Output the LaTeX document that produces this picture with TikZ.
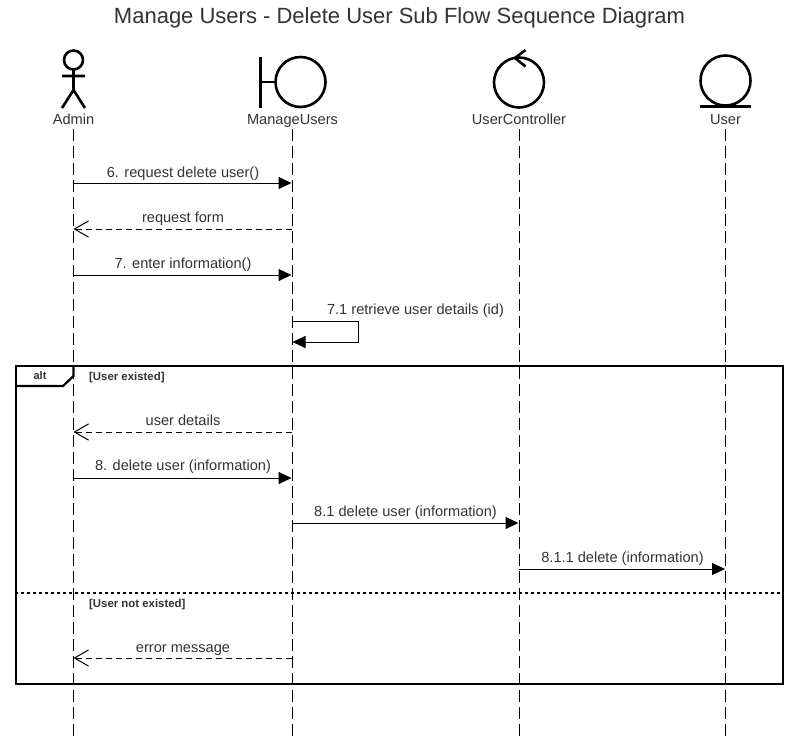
\documentclass[tikz,border=0pt]{standalone}
\usepackage{fontspec}
\setmainfont{Liberation Sans}
\usetikzlibrary{arrows.meta}
\definecolor{txt}{HTML}{333333}
\tikzset{
 x=1pt,y=-1pt,
 shape line/.style={draw=black,line width=2.6pt},
 frame line/.style={draw=black,line width=2.2pt},
 lifeline/.style={draw=black,line width=1pt,dash pattern=on 12pt off 5pt},
 sync/.style={draw=black,line width=1pt,-{Triangle[length=13pt,width=12pt]},shorten >=0.5pt},
 reply/.style={draw=black,line width=1pt,dash pattern=on 6pt off 4pt,-{Straight Barb[length=14pt,width=14pt,line width=1pt,angle'=60]}},
 lbl/.style={font=\fontsize{14.6}{16}\selectfont,text=txt,inner sep=0pt,anchor=base},
 guard/.style={font=\bfseries\fontsize{11.4}{13}\selectfont,text=txt,inner sep=0pt,anchor=base west},
}
\begin{document}
\begin{tikzpicture}
\useasboundingbox (0,0) rectangle (799,740);
\fill[white] (0,0) rectangle (799,740);
\node[font=\fontsize{22}{26}\selectfont,text=txt,inner sep=0pt] (title) at (399.5,18) {Manage Users - Delete User Sub Flow Sequence Diagram};
% actor labels
\node[lbl] (admin) at (73.5,124.5) {Admin};
\node[lbl] (manage) at (292.5,124.5) {ManageUsers};
\node[lbl] (ctrl) at (519,124.5) {UserController};
\node[lbl] (user) at (725.5,124.5) {User};
% lifeline ends
\coordinate (adminEnd) at (73.5,737);
\coordinate (manageEnd) at (292,737);
\coordinate (ctrlEnd) at (519,737);
\coordinate (userEnd) at (725.5,737);
\coordinate (adminTop) at (73.5,129);
\coordinate (manageTop) at (292,129);
\coordinate (ctrlTop) at (519,129);
\coordinate (userTop) at (725.5,129);
\draw[lifeline] (adminTop) -- (adminEnd);
\draw[lifeline] (manageTop) -- (manageEnd);
\draw[lifeline] (ctrlTop) -- (ctrlEnd);
\draw[lifeline] (userTop) -- (userEnd);
% actor figure
\draw[shape line] (73.5,60) circle (9.5);
\draw[shape line] (73.5,69.5) -- (73.5,90) (62,76) -- (85,76) (62,108) -- (73.5,90) -- (85,108);
% boundary
\draw[shape line] (300.5,82) circle (25);
\draw[shape line] (260.5,57) -- (260.5,108) (260.5,82) -- (275.5,82);
% control
\draw[shape line] (519,82.5) circle (25);
\draw[shape line] (525.5,50) -- (515,58) -- (525.5,66.5);
% entity
\draw[shape line] (725.5,80.5) circle (25);
\draw[shape line] (700,106.5) -- (751,106.5);
% frame
\node[frame line,minimum width=767pt,minimum height=318pt,inner sep=0pt] (frame) at (399.5,525) {};
\draw[frame line] (16,386) -- (63,386) -- (73.5,376) -- (73.5,366);
\node[font=\bfseries\fontsize{11}{13}\selectfont,text=txt,inner sep=0pt] (altlbl) at (40,376) {alt};
\node[guard] (g1) at (89,380) {[User existed]};
\node[guard] (g2) at (89,607) {[User not existed]};
\coordinate (divL) at (frame.west |- 0,593);
\coordinate (divR) at (frame.east |- 0,593);
\draw[draw=black,line width=2pt,dash pattern=on 3pt off 3pt] (divL) -- (divR);
% messages
\coordinate (a1) at (73.5,183); \coordinate (m1) at (292,183);
\coordinate (a2) at (73.5,229); \coordinate (m2) at (292,229);
\coordinate (a3) at (73.5,275); \coordinate (m3) at (292,275);
\coordinate (m4) at (292,321); \coordinate (m4b) at (292,342);
\coordinate (s1) at (358,321); \coordinate (s2) at (358,342);
\coordinate (a5) at (73.5,432); \coordinate (m5) at (292,432);
\coordinate (a6) at (73.5,478); \coordinate (m6) at (292,478);
\coordinate (m7) at (292,523); \coordinate (c7) at (519,523);
\coordinate (c8) at (519,569); \coordinate (u8) at (725.5,569);
\coordinate (a9) at (73.5,658); \coordinate (m9) at (292,658);
\draw[sync] (a1) -- (m1);
\draw[reply] (m2) -- (a2);
\draw[sync] (a3) -- (m3);
\draw[sync] (m4) -- (s1) -- (s2) -- (m4b);
\draw[reply] (m5) -- (a5);
\draw[sync] (a6) -- (m6);
\draw[sync] (m7) -- (c7);
\draw[sync] (c8) -- (u8);
\draw[reply] (m9) -- (a9);
\node[lbl] (l1) at (183,177) {6. request delete user()};
\node[lbl] (l2) at (183,222.5) {request form};
\node[lbl] (l3) at (183,268.5) {7. enter information()};
\node[lbl] (l4) at (415.5,314.5) {7.1 retrieve user details (id)};
\node[lbl] (l5) at (183,425) {user details};
\node[lbl] (l6) at (183,470.5) {8. delete user (information)};
\node[lbl] (l7) at (405.5,516.5) {8.1 delete user (information)};
\node[lbl] (l8) at (622.5,562.5) {8.1.1 delete (information)};
\node[lbl] (l9) at (183,652) {error message};
\end{tikzpicture}
\end{document}
